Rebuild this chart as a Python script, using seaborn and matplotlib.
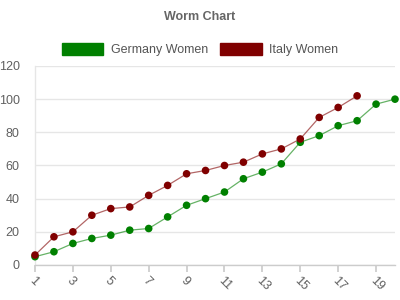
import matplotlib
matplotlib.use("Agg")
import matplotlib.pyplot as plt
import seaborn as sns
import pandas as pd
from matplotlib.patches import Patch

overs_germany = list(range(1, 21))
germany_women = [5, 8, 13, 16, 18, 21, 22, 29, 36, 40, 44, 52, 56, 61, 74, 78, 84, 87, 97, 100]
overs_italy = list(range(1, 19))
italy_women = [6, 17, 20, 30, 34, 35, 42, 48, 55, 57, 60, 62, 67, 70, 76, 89, 95, 102]
series_names = ["Germany Women", "Italy Women"]
colors = ["#008000", "#800000"]
x_ticks = [1, 3, 5, 7, 9, 11, 13, 15, 17, 19]
y_ticks = [0, 20, 40, 60, 80, 100, 120]

df = pd.concat([
    pd.DataFrame({"over": overs_germany, "runs": germany_women, "team": series_names[0]}),
    pd.DataFrame({"over": overs_italy, "runs": italy_women, "team": series_names[1]}),
])

sns.set_theme(style="white")
plt.rcParams["font.family"] = ["Liberation Sans", "DejaVu Sans"]

fig = plt.figure(figsize=(4, 3), dpi=100)
ax = fig.add_axes([0.0875, 0.1167, 0.9, 0.6633])

palette = dict(zip(series_names, colors))
sns.lineplot(data=df, x="over", y="runs", hue="team", palette=palette,
             ax=ax, linewidth=0.9, alpha=0.6, legend=False, sort=False)
sns.scatterplot(data=df, x="over", y="runs", hue="team", palette=palette,
                ax=ax, s=30, edgecolor="none", legend=False, zorder=3, clip_on=False)

ax.set_xlim(1, 20)
ax.set_ylim(0, 120)
ax.set_xticks(x_ticks)
ax.set_yticks(y_ticks)
ax.set_xlabel("")
ax.set_ylabel("")
ax.grid(axis="y", color="#e6e6e6", linewidth=1)
ax.set_axisbelow(True)
for s in ["top", "right"]:
    ax.spines[s].set_visible(False)
ax.spines["left"].set_color("#e6e6e6")
ax.spines["left"].set_linewidth(1)
ax.spines["bottom"].set_color("#cccccc")
ax.spines["bottom"].set_linewidth(1)
ax.tick_params(axis="y", length=0, labelsize=9, labelcolor="#606060", pad=11)
ax.tick_params(axis="x", length=5, color="#cccccc", labelsize=9, labelcolor="#606060",
               bottom=True, pad=2)
for lbl in ax.get_xticklabels():
    lbl.set_rotation(-45)
    lbl.set_ha("left")
    lbl.set_rotation_mode("anchor")

fig.text(0.5, 0.943, "Worm Chart", ha="center", va="center", fontsize=9,
         fontweight="bold", color="#666666")

handles = [Patch(facecolor=c, edgecolor=c, alpha=1) for c in colors]
fig.legend(handles, series_names, loc="center", bbox_to_anchor=(0.5, 0.835), ncol=2,
           frameon=False, fontsize=9, handlelength=3.3, handleheight=1.1,
           handletextpad=0.6, columnspacing=1.0, labelcolor="#555555")

fig.savefig("out.png", dpi=100)
